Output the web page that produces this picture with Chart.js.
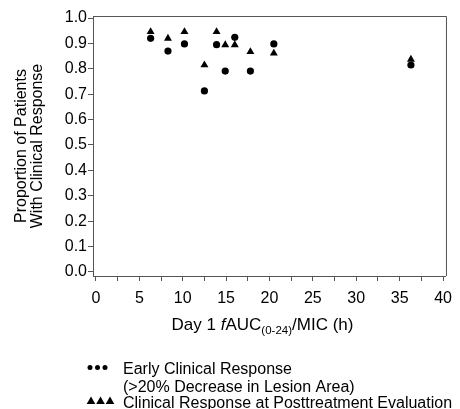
<!DOCTYPE html>
<html>
<head>
<meta charset="UTF-8">
<script src="https://cdn.jsdelivr.net/npm/chart.js@4"></script>
<style>
  html, body { margin: 0; padding: 0; background: #fff; }
  #wrap { width: 460px; height: 409px; }
</style>
</head>
<body>
<div id="wrap"><canvas id="c" width="460" height="409"></canvas></div>
<script>
// данные
const aucMic = [6.3, 8.3, 10.2, 12.5, 13.9, 14.9, 16.0, 17.8, 20.5, 36.3];
const earlyResponse = [0.92, 0.87, 0.898, 0.713, 0.895, 0.791, 0.924, 0.791, 0.898, 0.815];
const posttreatmentResponse = [0.946, 0.92, 0.946, 0.815, 0.946, 0.894, 0.894, 0.867, 0.861, 0.837];
const xTicks = [0, 2.5, 5, 7.5, 10, 12.5, 15, 17.5, 20, 22.5, 25, 27.5, 30, 32.5, 35, 37.5, 40];
const yTicks = [0, 0.1, 0.2, 0.3, 0.4, 0.5, 0.6, 0.7, 0.8, 0.9, 1.0];
const legendLabels = ['Early Clinical Response', '(>20% Decrease in Lesion Area)', 'Clinical Response at Posttreatment Evaluation'];

const FONT = '"Liberation Sans", Arial, sans-serif';
const AXIS = '#555';

function toPoints(xs, ys) {
  return xs.map((x, i) => ({ x: x, y: ys[i] }));
}

// рамка, подпись оси X с индексом и легенда снизу
const extras = {
  id: 'extras',
  afterDraw(chart) {
    const ctx = chart.ctx;
    const a = chart.chartArea;
    ctx.save();
    ctx.strokeStyle = AXIS;
    ctx.lineWidth = 1;
    ctx.beginPath();
    ctx.moveTo(a.left, a.top + 0.5);
    ctx.lineTo(a.right + 0.5, a.top + 0.5);
    ctx.lineTo(a.right + 0.5, a.bottom);
    ctx.stroke();

    // Day 1 fAUC(0-24)/MIC (h)
    ctx.fillStyle = '#000';
    ctx.textBaseline = 'alphabetic';
    const parts = [
      { t: 'Day 1 ', f: '17px ' + FONT, dy: 0 },
      { t: 'f', f: 'italic 17px ' + FONT, dy: 0 },
      { t: 'AUC', f: '17px ' + FONT, dy: 0 },
      { t: '(0-24)', f: '11.5px ' + FONT, dy: 4 },
      { t: '/MIC (h)', f: '17px ' + FONT, dy: 0 }
    ];
    let total = 0;
    parts.forEach(p => { ctx.font = p.f; total += ctx.measureText(p.t).width; });
    let x = 262.5 - total / 2;
    const base = 330;
    parts.forEach(p => {
      ctx.font = p.f;
      ctx.fillText(p.t, x, base + p.dy);
      x += ctx.measureText(p.t).width;
    });

    // легенда
    ctx.font = '16px ' + FONT;
    ctx.textAlign = 'left';
    ctx.fillText(legendLabels[0], 123, 374);
    ctx.fillText(legendLabels[1], 123, 392);
    ctx.fillText(legendLabels[2], 123, 408);
    [90, 97.5, 105].forEach(cx => {
      ctx.beginPath();
      ctx.arc(cx, 367.5, 2.5, 0, Math.PI * 2);
      ctx.fill();
    });
    [91, 100.5, 110].forEach(cx => {
      ctx.beginPath();
      ctx.moveTo(cx, 396.5);
      ctx.lineTo(cx + 4.3, 404);
      ctx.lineTo(cx - 4.3, 404);
      ctx.closePath();
      ctx.fill();
    });
    ctx.restore();
  }
};

new Chart(document.getElementById('c'), {
  type: 'scatter',
  data: {
    datasets: [
      {
        label: 'Early Clinical Response',
        data: toPoints(aucMic, earlyResponse),
        pointStyle: 'circle',
        pointRadius: 3.6,
        backgroundColor: '#000',
        borderColor: '#000',
        borderWidth: 0
      },
      {
        label: 'Clinical Response at Posttreatment Evaluation',
        data: toPoints(aucMic, posttreatmentResponse),
        pointStyle: 'triangle',
        pointRadius: 4.6,
        backgroundColor: '#000',
        borderColor: '#000',
        borderWidth: 0
      }
    ]
  },
  options: {
    responsive: false,
    animation: false,
    devicePixelRatio: 1,
    layout: { padding: { left: 14, right: 9, top: 16, bottom: 0 } },
    plugins: {
      legend: { display: false },
      tooltip: { enabled: false }
    },
    scales: {
      x: {
        type: 'linear',
        min: -0.34,
        max: 40.34,
        afterBuildTicks: s => { s.ticks = xTicks.map(v => ({ value: v })); },
        afterFit: s => { s.height = 133; },
        ticks: {
          autoSkip: false,
          maxRotation: 0,
          padding: 8,
          color: '#000',
          font: { family: FONT, size: 16 },
          callback: v => (v % 5 === 0 ? String(v) : '')
        },
        grid: { drawOnChartArea: false, tickLength: 5, color: AXIS },
        border: { color: AXIS }
      },
      y: {
        min: -0.016,
        max: 1.008,
        afterBuildTicks: s => { s.ticks = yTicks.map(v => ({ value: v })); },
        afterFit: s => { s.width = 79; },
        ticks: {
          autoSkip: false,
          padding: 1,
          color: '#000',
          font: { family: FONT, size: 16 },
          callback: v => v.toFixed(1)
        },
        grid: { drawOnChartArea: false, tickLength: 5, color: AXIS },
        border: { color: AXIS },
        title: {
          display: true,
          text: ['Proportion of Patients', 'With Clinical Response'],
          color: '#000',
          font: { family: FONT, size: 16, lineHeight: 1.0 },
          padding: { top: 0, bottom: 0 }
        }
      }
    }
  },
  plugins: [extras]
});
</script>
</body>
</html>
